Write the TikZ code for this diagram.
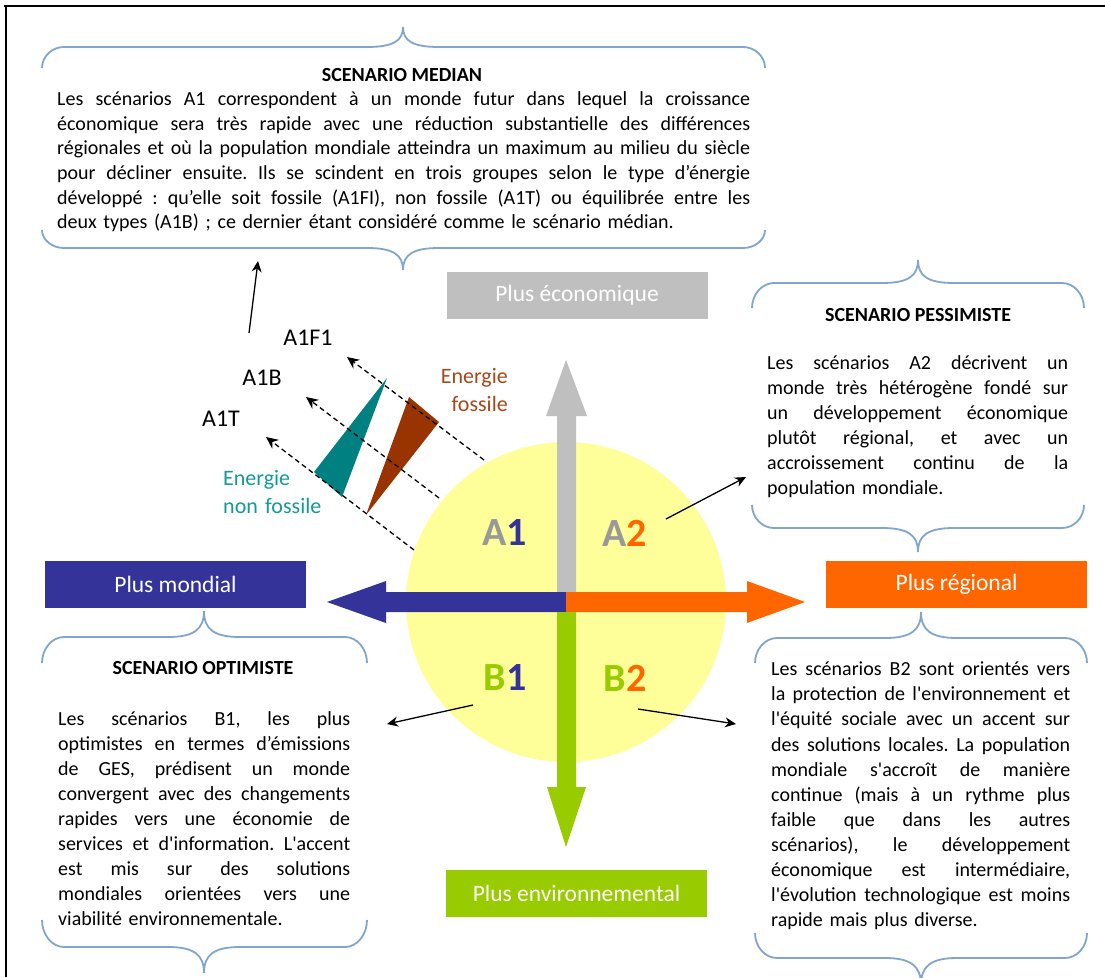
\documentclass[tikz,border=0pt]{standalone}
\usepackage{fontspec}
\setmainfont{Carlito}
\usetikzlibrary{arrows.meta}
\frenchspacing
\definecolor{bgray}{HTML}{BFBFBF}
\definecolor{mblue}{HTML}{333399}
\definecolor{morange}{HTML}{FF6600}
\definecolor{mgreen}{HTML}{99CC00}
\definecolor{myellow}{HTML}{FFFF99}
\definecolor{mteal}{HTML}{008080}
\definecolor{mbrown}{HTML}{993300}
\definecolor{agray}{HTML}{999999}
\definecolor{bracecol}{RGB}{128,166,206}
\definecolor{tealtxt}{HTML}{159A9A}
\definecolor{browntxt}{HTML}{A8471A}
\newcommand{\sq}{\textquotesingle}
\newcommand{\jlw}{100pt}
\newcommand{\jl}[1]{\leavevmode\hbox to \jlw{\spaceskip=4.5pt plus 20pt minus 1pt\relax #1}\\}
\newcommand{\mybrace}[6]{%
  \draw[bracestyle] (#1,#6) .. controls (#1,{#4+0.45*(#6-#4)}) and ({#1+10},#4) .. ({#1+22},#4)
   -- ({#3-36},#4) .. controls ({#3-10},#4) and (#3,{#4+0.3*(#5-#4)}) .. (#3,#5)
   .. controls (#3,{#4+0.3*(#5-#4)}) and ({#3+10},#4) .. ({#3+36},#4)
   -- ({#2-22},#4) .. controls ({#2-10},#4) and (#2,{#4+0.45*(#6-#4)}) .. (#2,#6);}
\tikzset{
  bracestyle/.style={draw=bracecol, line width=1.8pt},
  bodytext/.style={font=\fontsize{20}{25}\selectfont, inner sep=0pt, anchor=base west, align=left},
  scentitle/.style={font=\bfseries\fontsize{20}{24}\selectfont, inner sep=0pt, anchor=base},
  boxlabel/.style={text=white, font=\fontsize{23.5}{28}\selectfont, minimum width=261pt, minimum height=47pt, inner sep=0pt},
  quad/.style={font=\bfseries\fontsize{40}{44}\selectfont, inner sep=0pt},
  alabel/.style={font=\fontsize{22}{28}\selectfont, inner sep=0pt},
  vlabel/.style={font=\fontsize{24}{28}\selectfont, inner sep=0pt},
  smallarrow/.style={-{Stealth[length=11pt,width=10pt]}, line width=1.3pt},
  dasharrow/.style={-{Stealth[length=12pt,width=11pt]}, line width=1.3pt, dash pattern=on 5pt off 3.5pt},
}
\begin{document}
\begin{tikzpicture}[x=1pt,y=-1pt]
\useasboundingbox (0,0) rectangle (1105,977);
\fill[white] (0,0) rectangle (1105,977);
\draw[line width=2.4pt] (4,6) -- (1105,6);
\draw[line width=2.4pt] (6,6) -- (6,977);

% braces
\mybrace{42}{765}{403}{47}{27}{68}
\mybrace{42}{765}{403}{248}{270}{230}
\mybrace{752}{1084}{918}{283}{260}{308}
\mybrace{752}{1084}{918}{528}{552}{505}
\mybrace{42}{367}{204}{637}{611}{663}
\mybrace{42}{367}{204}{947}{973}{920}
\mybrace{755}{1087}{921}{638}{612}{663}
\mybrace{755}{1087}{921}{958}{985}{933}

% circle
\fill[myellow] (566,602) circle[radius=160pt];

% triangles
\fill[mteal] (387,378) -- (314,472) -- (342,497) -- cycle;
\fill[mbrown] (409,397) -- (439,422) -- (366,515) -- cycle;

% big arrows
\fill[bgray] (557,592) -- (557,416) -- (546,416) -- (566,360) -- (587,416) -- (576,416) -- (576,592) -- cycle;
\fill[mblue] (566,592) -- (386,592) -- (386,581) -- (327,602) -- (386,623) -- (386,612) -- (566,612) -- cycle;
\fill[morange] (566,592) -- (747,592) -- (747,581) -- (805,602) -- (747,623) -- (747,612) -- (566,612) -- cycle;
\fill[mgreen] (557,612) -- (557,787) -- (547,787) -- (566,847) -- (586,787) -- (576,787) -- (576,612) -- cycle;

% axis boxes
\node[boxlabel, fill=bgray] (eco) at (577,295) {Plus économique};
\node[boxlabel, fill=mblue] (mond) at (175.5,584) {Plus mondial};
\node[boxlabel, fill=morange] (reg) at (956.5,584.5) {Plus régional};
\node[boxlabel, fill=mgreen] (env) at (576.5,893) {Plus environnemental};

% quadrant labels
\node[quad] (qa1) at (505,533) {\textcolor{agray}{A}\textcolor{mblue}{1}};
\node[quad] (qa2) at (625,533) {\textcolor{agray}{A}\textcolor{morange}{2}};
\node[quad] (qb1) at (505,678) {\textcolor{mgreen}{B}\textcolor{mblue}{1}};
\node[quad] (qb2) at (625,678) {\textcolor{mgreen}{B}\textcolor{morange}{2}};

% A1 sub labels
\node[vlabel] (a1f1) at (308,338) {A1F1};
\node[vlabel] (a1b) at (262,378) {A1B};
\node[vlabel] (a1t) at (221,419) {A1T};
\node[alabel, text=browntxt, text width=90pt, align=right, anchor=base east] (fos) at (508,383) {Energie\\fossile};
\node[alabel, text=tealtxt, text width=110pt, align=left, anchor=base west] (nfos) at (223,485) {Energie\\non fossile};

% dashed arrows
\coordinate (d1s) at (484,460); \coordinate (d1e) at (347,357);
\coordinate (d2s) at (439,498); \coordinate (d2e) at (306,397);
\coordinate (d3s) at (414,550); \coordinate (d3e) at (266,437);
\draw[dasharrow] (d1s) -- (d1e);
\draw[dasharrow] (d2s) -- (d2e);
\draw[dasharrow] (d3s) -- (d3e);

% small arrows
\coordinate (up1) at (249,333); \coordinate (up2) at (258,261);
\draw[smallarrow] (up1) -- (up2);
\coordinate (r1) at (666,519); \coordinate (r2) at (746,477);
\draw[smallarrow] (r1) -- (r2);
\coordinate (b1s) at (473,705); \coordinate (b1e) at (387,724);
\draw[smallarrow] (b1s) -- (b1e);
\coordinate (b2s) at (638,709); \coordinate (b2e) at (736,724);
\draw[smallarrow] (b2s) -- (b2e);

% texts
\node[scentitle] (tmed) at (402,81.5) {SCENARIO MEDIAN};
\node[bodytext, text width=693pt, font=\fontsize{20}{24.6}\selectfont] (med) at (57,105.7) {%
\renewcommand{\jlw}{693pt}%
\jl{Les scénarios A1 correspondent à un monde futur dans lequel la croissance}
\jl{économique sera très rapide avec une réduction substantielle des différences}
\jl{régionales et où la population mondiale atteindra un maximum au milieu du siècle}
\jl{pour décliner ensuite. Ils se scindent en trois groupes selon le type d’énergie}
\jl{développé~: qu’elle soit fossile (A1FI), non fossile (A1T) ou équilibrée entre les}
deux types (A1B) ; ce dernier étant considéré comme le scénario médian.};

\node[scentitle] (tpes) at (918,321.5) {SCENARIO PESSIMISTE};
\node[bodytext, text width=301pt] (pes) at (767,369.7) {%
\renewcommand{\jlw}{301pt}%
\jl{Les scénarios A2 décrivent un}
\jl{monde très hétérogène fondé sur}
\jl{un développement économique}
\jl{plutôt régional, et avec un}
\jl{accroissement continu de la}
population mondiale.};

\node[scentitle] (topt) at (203,674.5) {SCENARIO OPTIMISTE};
\node[bodytext, text width=292pt] (opt) at (58,725.7) {%
\renewcommand{\jlw}{292pt}%
\jl{Les scénarios B1, les plus}
\jl{optimistes en termes d’émissions}
\jl{de GES, prédisent un monde}
\jl{convergent avec des changements}
\jl{rapides vers une économie de}
\jl{services et d\sq information. L\sq accent}
\jl{est mis sur des solutions}
\jl{mondiales orientées vers une}
viabilité environnementale.};

\node[bodytext, text width=299pt, font=\fontsize{20}{25.1}\selectfont] (b2t) at (771,675.7) {%
\renewcommand{\jlw}{299pt}%
\jl{Les scénarios B2 sont orientés vers}
\jl{la protection de l\sq environnement et}
\jl{l\sq équité sociale avec un accent sur}
\jl{des solutions locales. La population}
\jl{mondiale s\sq accroît de manière}
\jl{continue (mais à un rythme plus}
\jl{faible que dans les autres}
\jl{scénarios), le développement}
\jl{économique est intermédiaire,}
\jl{l\sq évolution technologique est moins}
rapide mais plus diverse.};
\end{tikzpicture}
\end{document}
